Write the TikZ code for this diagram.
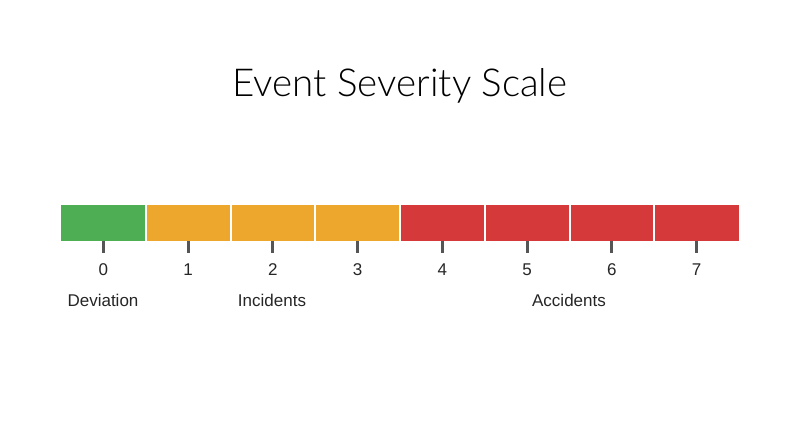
\documentclass[tikz,border=0pt]{standalone}
\usepackage{fontspec}
\setmainfont{Liberation Sans}
\newfontfamily\titlefont{Lato Light}
\definecolor{sgreen}{RGB}{78,174,84}
\definecolor{sorange}{RGB}{238,167,45}
\definecolor{sred}{RGB}{213,57,58}
\definecolor{tickc}{RGB}{85,85,85}
\begin{document}
\begin{tikzpicture}[x=1pt,y=-1pt,
  tickmark/.style={draw=tickc,line width=3pt},
  num/.style={font=\fontsize{17}{19}\selectfont,text=black!85,inner sep=0pt},
  grp/.style={font=\fontsize{17}{19}\selectfont,text=black!85,inner sep=0pt}]
\useasboundingbox[fill=white] (0,0) rectangle (800,447);
\node[font=\titlefont\fontsize{38.5}{44}\selectfont,inner sep=0pt] (title) at (400,86) {Event Severity Scale};
\foreach \i/\c in {0/sgreen,1/sorange,2/sorange,3/sorange,4/sred,5/sred,6/sred,7/sred}{
  \fill[\c] ({61+84.75*\i+(\i>0?1:0)},205) rectangle ({61+84.75*\i+(\i<7?83.75:84.75)},241);
  \coordinate (t\i) at ({61+84.75*\i+42.4},241);
  \coordinate (b\i) at ({61+84.75*\i+42.4},253);
  \draw[tickmark] (t\i) -- (b\i);
  \node[num] (n\i) at ({61+84.75*\i+42.4},270) {\i};
}
\node[grp] (dev) at (103,300) {Deviation};
\node[grp] (inc) at (272,300) {Incidents};
\node[grp] (acc) at (569,300) {Accidents};
\end{tikzpicture}
\end{document}
